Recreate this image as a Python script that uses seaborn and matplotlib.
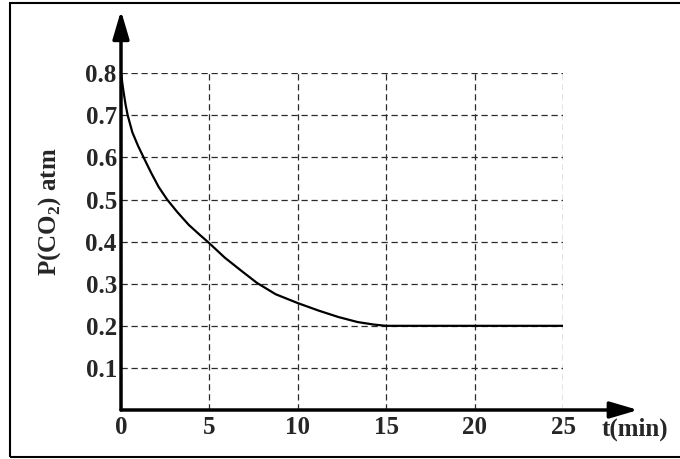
import matplotlib
matplotlib.use("Agg")
import matplotlib.pyplot as plt
import pandas as pd
import seaborn as sns
from matplotlib.patches import Rectangle

# 曲線上の読み取り値 (t [min], P(CO2) [atm])
t_min = [0, 0.13, 0.26, 0.38, 0.64, 0.96, 1.28, 1.70, 2.13, 2.61, 3.19, 3.83,
         4.46, 4.95, 5.87, 6.83, 7.69, 8.75, 10, 11.19, 12.29, 13.38, 14.3,
         15, 20, 25]
p_co2 = [0.8, 0.76, 0.725, 0.70, 0.660, 0.628, 0.600, 0.564, 0.530, 0.50,
         0.470, 0.440, 0.416, 0.398, 0.362, 0.330, 0.302, 0.275, 0.254, 0.236,
         0.221, 0.209, 0.203, 0.2, 0.2, 0.2]

x_ticks = [0, 5, 10, 15, 20, 25]
y_ticks = [0.1, 0.2, 0.3, 0.4, 0.5, 0.6, 0.7, 0.8]
y_tick_labels = ["0.1", "0.2", "0.3", "0.4", "0.5", "0.6", "0.7", "0.8"]

df = pd.DataFrame({"t": t_min, "p": p_co2})

sns.set_theme(style="white")
plt.rcParams["font.family"] = ["Liberation Serif", "DejaVu Serif"]
plt.rcParams["font.weight"] = "bold"
plt.rcParams["mathtext.fontset"] = "custom"
plt.rcParams["mathtext.rm"] = "Liberation Serif:bold"
plt.rcParams["mathtext.bf"] = "Liberation Serif:bold"

fig = plt.figure(figsize=(6.8, 4.59), dpi=100)
ax = fig.add_axes([121 / 680, 49 / 459, 442 / 680, 336.7 / 459])

sns.lineplot(data=df, x="t", y="p", color="black", linewidth=1.6,
             estimator=None, ax=ax)

ax.set_xlim(0, 25)
ax.set_ylim(0, 0.8)
ax.set_xticks(x_ticks)
ax.set_xticklabels([str(v) for v in x_ticks])
ax.set_yticks(y_ticks)
ax.set_yticklabels(y_tick_labels)
ax.tick_params(length=0, labelsize=18, pad=4)
ax.tick_params(axis="y", pad=3)
for lab in ax.get_xticklabels() + ax.get_yticklabels():
    lab.set_fontweight("bold")

# 破線グリッド
ax.grid(True, linestyle=(0, (5, 3)), color="#2a2a2a", linewidth=0.9)
ax.set_axisbelow(True)
for s in ax.spines.values():
    s.set_visible(False)

# 矢印付きの軸
arrow = dict(arrowstyle="-|>,head_length=1.7,head_width=0.5", mutation_scale=10,
             lw=2.5, color="black", shrinkA=0, shrinkB=0)
ax.annotate("", xy=(0, 1.186), xytext=(0, 0), xycoords="axes fraction",
            arrowprops=arrow, annotation_clip=False)
ax.annotate("", xy=(1.17, 0), xytext=(0, 0), xycoords="axes fraction",
            arrowprops=arrow, annotation_clip=False)

ax.set_ylabel(r"P(CO$_\mathbf{2}$) atm", fontsize=18, fontweight="bold")
ax.yaxis.set_label_coords(-0.132, 0.588)
ax.set_xlabel("t(min)", fontsize=18, fontweight="bold")
ax.xaxis.set_label_coords(1.163, -0.022)

# 外枠
fig.patches.append(Rectangle((10 / 680, 2 / 459), 1.0, 454.5 / 459,
                             transform=fig.transFigure, fill=False,
                             lw=1.5, ec="black"))

fig.savefig("out.png", dpi=100)
